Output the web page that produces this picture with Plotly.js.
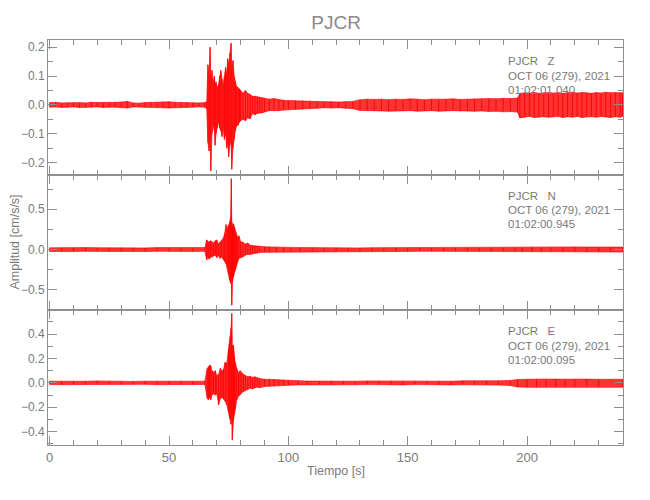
<!DOCTYPE html>
<html>
<head>
<meta charset="utf-8">
<script src="https://cdn.plot.ly/plotly-3.0.1.min.js"></script>
<style>html,body{margin:0;padding:0;background:#fff;}#chart{width:650px;height:500px;}</style>
</head>
<body>
<div id="chart"></div>
<script>
// ---- Channel Z (envelope: time [s], upper, lower) ----
const zTime = [0,2.5,5,7.5,10,12.5,15,17.5,20,22.5,25,27.5,30,32.5,
  35,37.5,40,42.5,45,47.5,50,52.5,55,57.5,60,62.5,65,65.8,
  66.3,66.8,67.2,67.5,68,68.5,69,69.3,69.7,70.2,70.7,71.2,71.7,72.2,
  72.7,73.2,73.7,74.2,74.6,75,75.5,76,76.3,76.8,77.3,77.8,78.3,79,
  79.5,80,81,82,83,84,85,86,87,88,89,90,92,94,
  96,98,100,103,106,109,112,115,118,121,124,127,130,133,
  136,139,142,145,148,151,154,157,160,163,166,169,172,175,
  178,181,184,187,190,193,196,197,199,201,203,205,207,209,
  211,213,215,217,219,221,223,225,227,229,231,233,235,237,239,240];
const zHigh = [.008,.009,.007,.008,.009,.008,.007,.009,.008,.008,.007,.009,.010,.012,
  .007,.006,.008,.009,.008,.009,.011,.009,.008,.009,.008,.007,.008,.012,
  .139,.10,.200,.09,.12,.08,.10,.07,.08,.06,.07,.10,.12,.09,
  .07,.10,.13,.11,.16,.14,.18,.214,.12,.154,.10,.08,.064,.06,
  .055,.05,.041,.05,.04,.036,.03,.03,.028,.027,.025,.022,.02,.022,
  .018,.016,.015,.014,.015,.013,.012,.010,.011,.010,.011,.012,.018,.020,
  .019,.020,.018,.020,.019,.021,.020,.018,.020,.019,.020,.021,.019,.020,
  .021,.020,.022,.021,.023,.022,.024,.040,.042,.041,.043,.040,.042,.043,
  .041,.043,.040,.042,.044,.041,.043,.042,.040,.043,.041,.044,.042,.043,.041,.042];
const zLow = [-.008,-.007,-.009,-.008,-.007,-.009,-.008,-.008,-.007,-.009,-.008,-.008,-.009,-.011,
  -.007,-.006,-.008,-.008,-.009,-.010,-.011,-.009,-.009,-.008,-.008,-.007,-.008,-.015,
  -.13,-.16,-.08,-.229,-.10,-.07,-.09,-.14,-.10,-.08,-.06,-.08,-.09,-.11,
  -.08,-.12,-.10,-.15,-.13,-.18,-.14,-.12,-.223,-.15,-.12,-.09,-.074,-.07,
  -.06,-.055,-.05,-.055,-.045,-.048,-.03,-.035,-.03,-.028,-.028,-.025,-.02,-.019,
  -.02,-.018,-.016,-.015,-.014,-.013,-.012,-.010,-.011,-.010,-.011,-.013,-.019,-.021,
  -.020,-.021,-.022,-.020,-.021,-.020,-.022,-.021,-.020,-.022,-.021,-.020,-.022,-.021,
  -.022,-.021,-.023,-.022,-.024,-.023,-.025,-.045,-.043,-.040,-.044,-.042,-.041,-.043,
  -.042,-.040,-.044,-.041,-.043,-.040,-.044,-.042,-.041,-.043,-.040,-.042,-.044,-.041,-.043,-.04];

// ---- Channel N ----
const nTime = [0,5,10,15,20,25,30,35,40,45,50,55,60,65,
  65.8,66.3,66.8,67.3,68,68.7,69.4,70,70.7,71.4,72,72.7,73.3,73.9,
  74.4,74.9,75.4,75.8,76.1,76.3,76.6,77,77.4,77.8,78.3,78.8,79.3,80,
  81,82,83,84,85,86,87,88,90,92,95,98,101,105,
  110,115,120,125,130,135,140,145,150,155,160,165,170,175,
  180,185,190,195,198,202,206,210,215,220,225,230,235,240];
const nHigh = [.022,.025,.020,.024,.023,.021,.025,.022,.020,.024,.023,.022,.021,.024,
  .12,.10,.09,.11,.10,.08,.11,.12,.07,.09,.11,.14,.20,.31,
  .26,.30,.34,.40,.88,.35,.30,.32,.28,.22,.18,.15,.17,.10,
  .09,.07,.08,.055,.05,.045,.04,.042,.035,.032,.03,.028,.027,.025,
  .023,.021,.024,.022,.020,.023,.024,.021,.022,.025,.023,.021,.024,.022,
  .023,.024,.025,.026,.030,.031,.029,.032,.030,.033,.031,.030,.032,.031];
const nLow = [-.024,-.021,-.025,-.022,-.020,-.024,-.023,-.021,-.025,-.022,-.024,-.021,-.023,-.022,
  -.13,-.09,-.12,-.10,-.09,-.08,-.07,-.10,-.08,-.11,-.09,-.12,-.15,-.18,
  -.22,-.30,-.38,-.42,-.30,-.69,-.40,-.34,-.27,-.25,-.20,-.15,-.11,-.10,
  -.09,-.07,-.06,-.06,-.05,-.045,-.045,-.038,-.035,-.033,-.03,-.03,-.026,-.025,
  -.022,-.024,-.021,-.023,-.025,-.022,-.021,-.024,-.023,-.021,-.024,-.022,-.023,-.025,
  -.024,-.025,-.024,-.027,-.031,-.030,-.032,-.029,-.033,-.030,-.031,-.032,-.030,-.031];

// ---- Channel E ----
const eTime = [0,5,10,15,20,25,30,35,40,45,50,55,60,65,
  66,66.5,67,67.5,68,68.7,69.4,70,70.8,71.5,72.2,72.8,73.5,74.2,
  74.9,75.3,75.6,76,76.3,76.5,77,77.4,77.7,78.4,79.1,79.8,80.5,81.2,
  82,83,84,85,86,87,88,90,92,94,96,98,100,104,
  108,113,118,123,128,133,138,143,148,153,158,163,168,173,
  178,183,188,193,196,200,204,208,212,216,220,225,230,240];
const eHigh = [.014,.012,.015,.013,.016,.014,.015,.012,.014,.013,.015,.014,.013,.014,
  .118,.13,.145,.14,.10,.09,.10,.06,.07,.12,.10,.11,.17,.16,
  .28,.32,.38,.45,.57,.30,.31,.22,.17,.12,.08,.10,.08,.07,
  .06,.05,.055,.045,.05,.04,.035,.03,.032,.028,.025,.022,.02,.018,
  .015,.014,.016,.015,.014,.016,.015,.017,.014,.016,.015,.016,.014,.017,
  .016,.015,.017,.020,.028,.030,.032,.029,.031,.030,.032,.031,.029,.030];
const eLow = [-.013,-.015,-.012,-.014,-.013,-.015,-.014,-.013,-.012,-.015,-.013,-.014,-.015,-.013,
  -.128,-.14,-.12,-.14,-.10,-.09,-.10,-.09,-.18,-.13,-.12,-.13,-.15,-.18,
  -.24,-.28,-.30,-.34,-.25,-.47,-.31,-.26,-.22,-.14,-.11,-.10,-.08,-.07,
  -.06,-.055,-.045,-.05,-.04,-.035,-.04,-.03,-.028,-.027,-.025,-.023,-.02,-.017,
  -.015,-.016,-.014,-.015,-.016,-.014,-.016,-.015,-.017,-.014,-.016,-.015,-.017,-.016,
  -.017,-.016,-.018,-.022,-.034,-.036,-.038,-.035,-.037,-.036,-.038,-.035,-.037,-.036];

// ---- Text ----
const chartTitle = 'PJCR';
const xTitle = 'Tiempo [s]';
const yTitle = 'Amplitud [cm/s/s]';
const station = 'PJCR';
const components = ['Z', 'N', 'E'];
const dateLabel = 'OCT 06 (279), 2021';
const startTimes = ['01:02:01.040', '01:02:00.945', '01:02:00.095'];

const RED = '#ff0000';
const TXT = '#7a7a7a';
const LINE = '#8f8f8f';
const FONT = "'Liberation Sans', Arial, sans-serif";

const traces = [];
function addChannel(t, hi, lo, xa, ya) {
  const n = Math.min(t.length, hi.length, lo.length);
  const tt = t.slice(0, n), h = hi.slice(0, n), l = lo.slice(0, n);
  traces.push({
    type: 'scatter', mode: 'lines', xaxis: xa, yaxis: ya,
    x: tt.concat(tt.slice().reverse()),
    y: h.concat(l.slice().reverse()),
    fill: 'toself', fillcolor: 'rgba(255,0,0,0.8)',
    line: {color: RED, width: 0.6}, hoverinfo: 'skip', showlegend: false
  });
  const vx = [], vy = [];
  for (let i = 0; i < n; i++) { vx.push(tt[i], tt[i], null); vy.push(h[i], l[i], null); }
  traces.push({
    type: 'scatter', mode: 'lines', xaxis: xa, yaxis: ya,
    x: vx, y: vy, line: {color: RED, width: 0.9}, connectgaps: false,
    hoverinfo: 'skip', showlegend: false
  });
}
addChannel(zTime, zHigh, zLow, 'x', 'y');
addChannel(nTime, nHigh, nLow, 'x2', 'y2');
addChannel(eTime, eHigh, eLow, 'x3', 'y3');

const XR = [-0.7, 240.2];
function xAxis(anchor, labels) {
  return {
    anchor: anchor, domain: [0, 1], range: XR, tick0: 0, dtick: 50,
    ticks: 'inside', ticklen: 9, tickcolor: LINE, tickwidth: 1,
    minor: {dtick: 10, tick0: 0, ticks: 'inside', ticklen: 5, tickcolor: LINE, tickwidth: 1},
    showline: true, linecolor: LINE, linewidth: 1, mirror: 'allticks',
    showgrid: false, zeroline: false, showticklabels: labels,
    tickfont: {family: FONT, size: 13, color: TXT}, fixedrange: true
  };
}
function yAxis(anchor, domain, range, dt, mdt) {
  return {
    anchor: anchor, domain: domain, range: range, tick0: 0, dtick: dt,
    tickformat: '.1f',
    ticks: 'inside', ticklen: 9, tickcolor: LINE, tickwidth: 1,
    minor: {dtick: mdt, tick0: 0, ticks: 'inside', ticklen: 5, tickcolor: LINE, tickwidth: 1},
    showline: true, linecolor: LINE, linewidth: 1, mirror: 'allticks',
    showgrid: false, zeroline: false,
    tickfont: {family: FONT, size: 12, color: TXT}, fixedrange: true
  };
}

const annotations = [];
const infoY = [[0.9489, 0.9111, 0.8765], [0.6148, 0.5802, 0.5449], [0.2815, 0.2452, 0.2099]];
components.forEach((c, k) => {
  const lines = [station + '\u00a0\u00a0\u00a0' + c, dateLabel, startTimes[k]];
  lines.forEach((txt, j) => annotations.push({
    xref: 'paper', yref: 'paper', x: 0.797, y: infoY[k][j],
    xanchor: 'left', yanchor: 'middle', showarrow: false, text: txt,
    font: {family: FONT, size: 11.5, color: TXT}
  }));
});
annotations.push({
  xref: 'paper', yref: 'paper', x: 0.5, y: -0.0654, xanchor: 'center', yanchor: 'middle',
  showarrow: false, text: xTitle, font: {family: FONT, size: 12.5, color: TXT}
});
annotations.push({
  xref: 'paper', yref: 'paper', x: -0.059, y: 0.5, xanchor: 'center', yanchor: 'middle',
  textangle: -90, showarrow: false, text: yTitle, font: {family: FONT, size: 12.5, color: TXT}
});

const layout = {
  width: 650, height: 500,
  margin: {l: 48, r: 27, t: 40, b: 55},
  paper_bgcolor: '#ffffff', plot_bgcolor: '#ffffff',
  title: {text: chartTitle, x: 0.517, xanchor: 'center', y: 0.955, yanchor: 'middle',
          font: {family: FONT, size: 19, color: '#8a8a8a'}},
  showlegend: false, hovermode: false,
  xaxis: xAxis('y', false),
  xaxis2: xAxis('y2', false),
  xaxis3: xAxis('y3', true),
  yaxis: yAxis('x', [2/3, 1], [-0.243, 0.225], 0.1, 0.05),
  yaxis2: yAxis('x2', [1/3, 2/3], [-0.75, 0.925], 0.5, 0.25),
  yaxis3: yAxis('x3', [0, 1/3], [-0.51, 0.598], 0.2, 0.1),
  annotations: annotations
};

Plotly.newPlot('chart', traces, layout, {staticPlot: true, displayModeBar: false});
</script>
</body>
</html>
